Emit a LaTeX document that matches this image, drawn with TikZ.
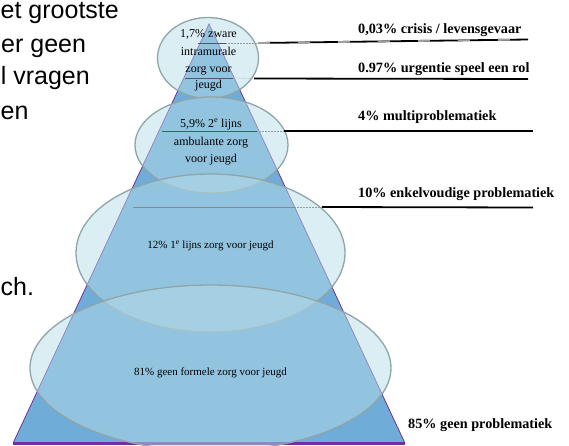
\documentclass[tikz,border=0pt]{standalone}
\usepackage{fontspec}
\setmainfont{Liberation Serif}
\newfontfamily\arialf{Liberation Sans}
\definecolor{trifill}{RGB}{111,172,216}
\definecolor{bubblefill}{RGB}{183,221,231}
\definecolor{bubbleedge}{RGB}{143,165,168}
\definecolor{purp}{RGB}{112,48,160}
\definecolor{innerline}{RGB}{80,90,100}
\begin{document}
\begin{tikzpicture}[x=1pt,y=-1pt,
  lefttext/.style={font=\arialf\fontsize{25}{30}\selectfont, anchor=base west, inner sep=0pt},
  rlabel/.style={font=\bfseries\fontsize{14.2}{17}\selectfont, anchor=base west, inner sep=0pt},
  inlabel/.style={font=\fontsize{12}{14}\selectfont, anchor=base, inner sep=0pt, text=black},
  smlabel/.style={font=\fontsize{11}{13}\selectfont, anchor=base, inner sep=0pt, text=black},
  bubble/.style={fill=bubblefill, fill opacity=0.5, draw=bubbleedge, line width=1.3pt},
  leader/.style={black, line width=1.8pt},
  dotseg/.style={innerline!60, line width=0.5pt, densely dotted},
  inseg/.style={innerline, line width=0.8pt}
]
\useasboundingbox (0,0) rectangle (569,445);
\clip (0,0) rectangle (569,445);

% left slide text
\node[lefttext] (l1) at (0.5,18.8) {et grootste};
\node[lefttext] (l2) at (1,52.5) {er geen};
\node[lefttext, anchor=base east] (l3) at (90,84) {l vragen};
\node[lefttext] (l4) at (0.5,119) {en};
\node[lefttext] (l5) at (0.5,295) {ch.};

% pyramid
\coordinate (apex) at (209,24);
\coordinate (bl) at (13,443.3);
\coordinate (br) at (405,443.3);
\fill[trifill] (apex) -- (br) -- (bl) -- cycle;
\draw[purp, line width=0.8pt] (bl) -- (apex) -- (br);
\draw[purp, line width=2.5pt] (bl) -- (br);

% ellipses
\draw[bubble] (208,58) ellipse [x radius=50.5pt, y radius=40.5pt];
\draw[bubble] (211.5,145) ellipse [x radius=76.5pt, y radius=48pt];
\draw[bubble] (210.5,253) ellipse [x radius=134.5pt, y radius=79pt];
\draw[bubble] (210.5,368) ellipse [x radius=180.5pt, y radius=83pt];

% leader lines
\coordinate (a1) at (198,43);  \coordinate (b1) at (226,43);  \coordinate (c1) at (258,43);  \coordinate (d1) at (528,39.5);
\coordinate (a2) at (185,78);  \coordinate (b2) at (233,78);  \coordinate (c2) at (254,78.5);  \coordinate (d2) at (528,79);
\coordinate (a3) at (162,131); \coordinate (b3) at (257,131); \coordinate (c3) at (284,131); \coordinate (d3) at (533,131);
\coordinate (a4) at (133,207); \coordinate (b4) at (295,207); \coordinate (c4) at (322,207); \coordinate (d4) at (533,207.5);

\draw[inseg] (a1) -- (b1); \draw[dotseg] (b1) -- (c1); \draw[leader] (c1) -- (d1);
\draw[gray!75, line width=1.8pt, dash pattern=on 12pt off 28pt] (c1) -- (d1);
\draw[inseg] (a2) -- (b2); \draw[dotseg] (b2) -- (c2); \draw[leader] (c2) -- (d2);
\draw[inseg] (a3) -- (b3); \draw[dotseg] (b3) -- (c3); \draw[leader] (c3) -- (d3);
\draw[inseg, innerline!70] (a4) -- (b4); \draw[dotseg] (b4) -- (c4); \draw[leader] (c4) -- (d4);

% inner labels
\node[inlabel] (t1a) at (208.5,37) {1,7\% zware};
\node[inlabel] (t1b) at (208.5,55) {intramurale};
\node[inlabel] (t1c) at (208.5,72.5) {zorg voor};
\node[inlabel] (t1d) at (208.5,88) {jeugd};
\node[inlabel] (t2a) at (211,127) {5,9\% 2\textsuperscript{e} lijns};
\node[inlabel] (t2b) at (211,145) {ambulante zorg};
\node[inlabel] (t2c) at (211,162) {voor jeugd};
\node[smlabel] (t3) at (210.5,248) {12\% 1\textsuperscript{e} lijns zorg voor jeugd};
\node[smlabel] (t4) at (210.5,375) {81\% geen formele zorg voor jeugd};

% right labels
\node[rlabel] (r1) at (358,33) {0,03\% crisis / levensgevaar};
\node[rlabel] (r2) at (358,72) {0.97\% urgentie speel een rol};
\node[rlabel] (r3) at (358,120.5) {4\% multiproblematiek};
\node[rlabel] (r4) at (358,197.5) {10\% enkelvoudige problematiek};
\node[rlabel] (r5) at (408,428) {85\% geen problematiek};
\end{tikzpicture}
\end{document}
